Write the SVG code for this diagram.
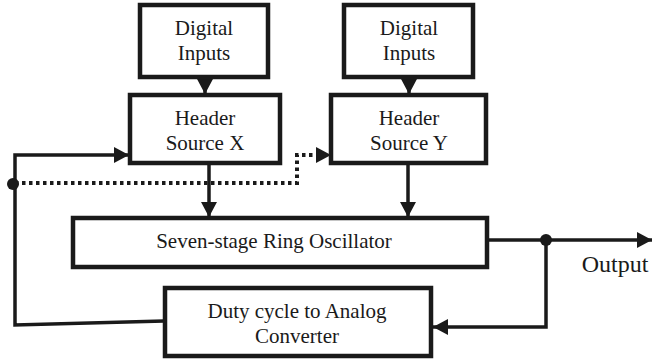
<svg xmlns="http://www.w3.org/2000/svg" width="653" height="360" viewBox="0 0 653 360">
<style>
.box{fill:#fff;stroke:#1a1a1a;stroke-width:4.5}
.t{font-family:"Liberation Serif","Times New Roman",serif;font-size:21px;fill:#1a1a1a;text-anchor:middle}
.ln{fill:none;stroke:#1a1a1a;stroke-width:3.5}
.dot{fill:none;stroke:#1a1a1a;stroke-width:4;stroke-dasharray:3.5 3.5}
</style>
<defs>
<marker id="ah" viewBox="0 0 15 16" refX="15" refY="8" markerWidth="15" markerHeight="16" markerUnits="userSpaceOnUse" orient="auto">
<path d="M0,0 L15,8 L0,16 Z" fill="#1a1a1a"/>
</marker>
</defs>
<g id="connectors">
<line class="ln" x1="205" y1="77" x2="205" y2="94" marker-end="url(#ah)"/>
<line class="ln" x1="409" y1="77" x2="409" y2="94" marker-end="url(#ah)"/>
<line class="ln" x1="209" y1="163" x2="209" y2="217" marker-end="url(#ah)"/>
<line class="ln" x1="408" y1="163" x2="408" y2="217" marker-end="url(#ah)"/>
<polyline class="ln" points="164,321 15,325 15,155 129,155" marker-end="url(#ah)"/>
<polyline class="dot" points="15,183 297,183 297,155 316,155"/>
<path d="M316,147 L331,155 L316,163 Z" fill="#1a1a1a"/>
<line class="ln" x1="487" y1="240" x2="652" y2="240" marker-end="url(#ah)"/>
<polyline class="ln" points="546,240 546,327 433,327" marker-end="url(#ah)"/>
<circle cx="13" cy="184" r="6" fill="#1a1a1a"/>
<circle cx="546" cy="240" r="6" fill="#1a1a1a"/>
</g>
<g id="digital-x">
<rect class="box" x="140" y="5" width="128" height="72"/>
<text class="t" x="204" y="35">Digital</text>
<text class="t" x="204" y="60">Inputs</text>
</g>
<g id="digital-y">
<rect class="box" x="344" y="5" width="129" height="72"/>
<text class="t" x="409" y="35">Digital</text>
<text class="t" x="409" y="60">Inputs</text>
</g>
<g id="header-x">
<rect class="box" x="130" y="95" width="150" height="68"/>
<text class="t" x="205" y="125">Header</text>
<text class="t" x="205" y="150">Source X</text>
</g>
<g id="header-y">
<rect class="box" x="331" y="95" width="155" height="68"/>
<text class="t" x="409" y="125">Header</text>
<text class="t" x="409" y="150">Source Y</text>
</g>
<g id="ring">
<rect class="box" x="73" y="218" width="414" height="49"/>
<text class="t" x="274" y="248">Seven-stage Ring Oscillator</text>
</g>
<g id="converter">
<rect class="box" x="165" y="288" width="266" height="68"/>
<text class="t" x="297" y="318">Duty cycle to Analog</text>
<text class="t" x="297" y="343">Converter</text>
</g>
<g id="output-label">
<text class="t" x="615" y="272" style="font-size:24px">Output</text>
</g>
</svg>
